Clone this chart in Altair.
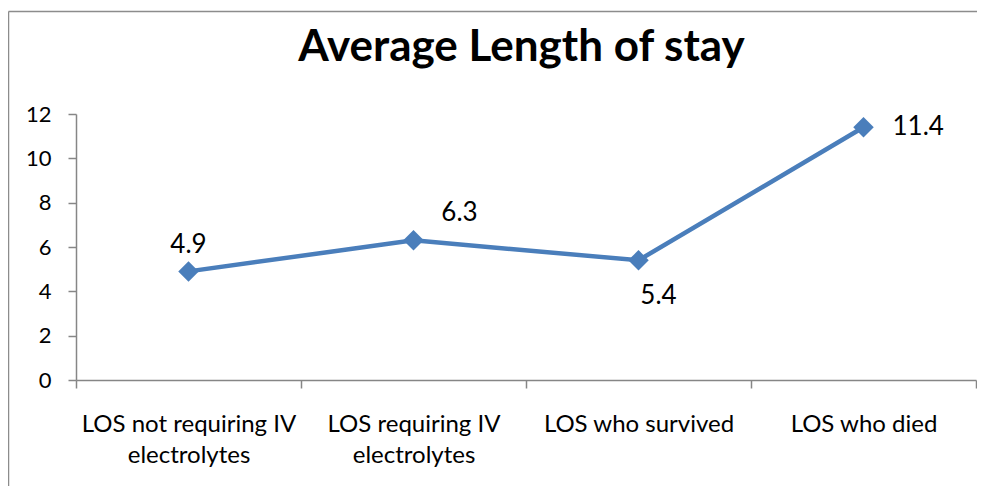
import altair as alt
import pandas as pd

title_text = "Average Length of stay"
categories = [
    "LOS not requiring IV\nelectrolytes",
    "LOS requiring IV\nelectrolytes",
    "LOS who survived",
    "LOS who died",
]
values = [4.9, 6.3, 5.4, 11.4]
labels = ["4.9", "6.3", "5.4", "11.4"]
y_ticks = [0, 2, 4, 6, 8, 10, 12]

df = pd.DataFrame({"cat": categories, "val": values, "lab": labels})

BLUE = "#4A7EBB"
GRAY = "#868686"
FONT = "Lato"

x = alt.X(
    "cat:N",
    sort=categories,
    scale=alt.Scale(paddingInner=0, paddingOuter=0),
    axis=alt.Axis(
        title=None,
        labelAngle=0,
        tickBand="extent",
        tickSize=8,
        tickColor=GRAY,
        domainColor=GRAY,
        domainWidth=1.5,
        tickWidth=1.5,
        labelFont=FONT,
        labelFontSize=24,
        labelColor="black",
        labelPadding=24,
        labelLineHeight=31,
        labelLimit=300,
        labelExpr="split(datum.label, '\\n')",
    ),
)
y = alt.Y(
    "val:Q",
    scale=alt.Scale(domain=[0, 12], nice=False, zero=True),
    axis=alt.Axis(
        title=None,
        values=y_ticks,
        grid=False,
        tickSize=8,
        tickColor=GRAY,
        domainColor=GRAY,
        domainWidth=1.5,
        tickWidth=1.5,
        labelFont=FONT,
        labelFontSize=22,
        labelColor="black",
        labelPadding=17,
    ),
)

base = alt.Chart(df)

line = base.mark_line(color=BLUE, strokeWidth=4.5).encode(x=x, y=y)
pts = base.mark_point(shape="diamond", filled=True, color=BLUE, size=420, opacity=1).encode(x=x, y=y)

offsets = {
    "4.9": dict(dx=0, dy=-26, align="center"),
    "6.3": dict(dx=46, dy=-27, align="center"),
    "5.4": dict(dx=20, dy=36, align="center"),
    "11.4": dict(dx=29, dy=0, align="left"),
}
texts = []
for lab in labels:
    o = offsets[lab]
    texts.append(
        base.transform_filter(alt.datum.lab == lab)
        .mark_text(font=FONT, fontSize=26, color="black", baseline="middle", **o)
        .encode(x=x, y=y, text="lab:N")
    )

title = alt.Chart(alt.Data(values=[{"t": title_text}])).mark_text(
    font=FONT, fontSize=44, fontWeight="bold", color="black",
    align="center", baseline="alphabetic", clip=False,
).encode(x=alt.value(445.5), y=alt.value(-53), text="t:N")

border_top = alt.Chart(alt.Data(values=[{"b": 1}])).mark_rule(
    stroke="#8C8C8C", strokeWidth=1.5, clip=False
).encode(x=alt.value(-67.5), x2=alt.value(901), y=alt.value(-102.5))
border_left = alt.Chart(alt.Data(values=[{"b": 2}])).mark_rule(
    stroke="#8C8C8C", strokeWidth=1.5, clip=False
).encode(x=alt.value(-67.5), y=alt.value(-102.5), y2=alt.value(372))

chart = alt.layer(border_top, border_left, line, pts, *texts, title).properties(
    width=900,
    height=266,
    autosize=alt.AutoSizeParams(type="none"),
    padding={"left": 68, "top": 106, "right": 1, "bottom": 106},
).configure_view(stroke="transparent", strokeWidth=0)

chart.save("out.html", embed_options={"renderer": "svg", "actions": False})
